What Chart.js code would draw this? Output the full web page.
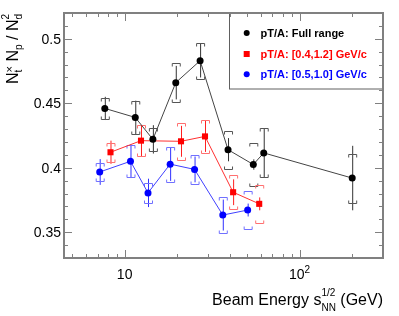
<!DOCTYPE html>
<html>
<head>
<meta charset="utf-8">
<script src="https://cdn.jsdelivr.net/npm/chart.js@4/dist/chart.umd.min.js"></script>
<style>
  html, body { margin: 0; padding: 0; background: #fff; }
  #wrap { width: 399px; height: 316px; }
</style>
</head>
<body>
<div id="wrap"><canvas id="chart" width="399" height="316"></canvas></div>
<script>
// ===============================
// data
// ===============================
const energyFull = [7.7, 11.5, 14.5, 19.6, 27, 39, 54.4, 62.4, 200];
const ratioFull = [0.446, 0.439, 0.422, 0.466, 0.483, 0.414, 0.4025, 0.4115, 0.392];
const statFull = [0.009, 0.013, 0.011, 0.013, 0.013, 0.009, 0.004, 0.019, 0.025];
const sysFull = [0.008, 0.013, 0.009, 0.015, 0.014, 0.0146, 0.017, 0.019, 0.019];

const energyMid = [8.3, 12.4, 21, 28.8, 41.7, 58.8];
const ratioMid = [0.412, 0.421, 0.4205, 0.4243, 0.381, 0.372];
const statMid = [0.009, 0.012, 0.012, 0.012, 0.010, 0.005];
const sysMid = [0.0073, 0.012, 0.0144, 0.0125, 0.013, 0.015];

const energyNarrow = [7.2, 10.8, 13.6, 18.2, 25.1, 36.4, 50.5];
const ratioNarrow = [0.3967, 0.405, 0.3805, 0.4028, 0.3987, 0.3633, 0.3672];
const statNarrow = [0.010, 0.013, 0.011, 0.013, 0.010, 0.012, 0.005];
const sysNarrow = [0.0073, 0.0125, 0.008, 0.0135, 0.011, 0.0137, 0.015];

const seriesNames = ['pT/A: Full range', 'pT/A: [0.4,1.2] GeV/c', 'pT/A: [0.5,1.0] GeV/c'];

// tick marks / labels
const yMajor = [0.35, 0.4, 0.45, 0.5];
const yLabels = ['0.35', '0.4', '0.45', '0.5'];
const yMinor = [0.33, 0.34, 0.36, 0.37, 0.38, 0.39, 0.41, 0.42, 0.43, 0.44, 0.46, 0.47, 0.48, 0.49, 0.51, 0.52];
const xMajor = [10, 100];
const xLabels = ['10', '10'];
const xLabelExp = ['', '2'];
const xMinor = [5, 6, 7, 8, 9, 20, 30, 40, 50, 60, 70, 80, 90, 200];

const FONT = '"Liberation Sans", Arial, Helvetica, sans-serif';
const FRAME = '#808080';

function pts(xs, ys) {
    return xs.map((x, i) => ({ x: x, y: ys[i] }));
}

const styles = [
    { marker: '#000000', line: '#444444', bracket: '#555555', stat: '#333333', shape: 'circle', r: 3.5 },
    { marker: '#ff0000', line: '#ff3030', bracket: '#ff7070', stat: '#ff2020', shape: 'rect', r: 4.3 },
    { marker: '#0000ff', line: '#4040ff', bracket: '#7070ff', stat: '#3030ff', shape: 'circle', r: 3.5 }
];
const errs = [
    { stat: statFull, sys: sysFull },
    { stat: statMid, sys: sysMid },
    { stat: statNarrow, sys: sysNarrow }
];

// ===============================
// error bars (stat line + sys brackets)
// ===============================
const errorBars = {
    id: 'errorBars',
    beforeDatasetsDraw(chart) {
        const ctx = chart.ctx;
        const xs = chart.scales.x, ys = chart.scales.y;
        ctx.save();
        chart.data.datasets.forEach((ds, di) => {
            const st = styles[di];
            ds.data.forEach((p, i) => {
                const px = xs.getPixelForValue(p.x);
                const s = errs[di].stat[i], sy = errs[di].sys[i];
                // stat
                ctx.strokeStyle = st.stat;
                ctx.lineWidth = 1;
                ctx.beginPath();
                ctx.moveTo(px + 0.5, ys.getPixelForValue(p.y + s));
                ctx.lineTo(px + 0.5, ys.getPixelForValue(p.y - s));
                ctx.stroke();
                // sys brackets
                const top = Math.round(ys.getPixelForValue(p.y + sy)) + 0.5;
                const bot = Math.round(ys.getPixelForValue(p.y - sy)) + 0.5;
                const hw = 4, tk = 3;
                ctx.strokeStyle = st.bracket;
                ctx.beginPath();
                ctx.moveTo(px - hw + 0.5, top + tk);
                ctx.lineTo(px - hw + 0.5, top);
                ctx.lineTo(px + hw + 0.5, top);
                ctx.lineTo(px + hw + 0.5, top + tk);
                ctx.moveTo(px - hw + 0.5, bot - tk);
                ctx.lineTo(px - hw + 0.5, bot);
                ctx.lineTo(px + hw + 0.5, bot);
                ctx.lineTo(px + hw + 0.5, bot - tk);
                ctx.stroke();
            });
        });
        ctx.restore();
    }
};

// ===============================
// frame, ticks, labels, legend
// ===============================
const frameAndText = {
    id: 'frameAndText',
    afterDraw(chart) {
        const ctx = chart.ctx;
        const a = chart.chartArea;
        const xs = chart.scales.x, ys = chart.scales.y;
        ctx.save();

        // legend (transparent box, axis ticks show through)
        const lx = 229.5, ly = a.top, lw = a.right - 229.5, lh = 89 - a.top;
        ctx.strokeStyle = '#606060';
        ctx.lineWidth = 1;
        ctx.strokeRect(lx, ly, lw, lh);
        const rows = [33, 54, 74.3];
        ctx.font = 'bold 11px ' + FONT;
        ctx.textAlign = 'left';
        ctx.textBaseline = 'middle';
        seriesNames.forEach((name, i) => {
            const st = styles[i];
            ctx.fillStyle = st.marker;
            if (st.shape === 'rect') {
                ctx.fillRect(246.7 - 3, rows[i] - 3, 6, 6);
            } else {
                ctx.beginPath();
                ctx.arc(246.7, rows[i], 3, 0, Math.PI * 2);
                ctx.fill();
            }
            ctx.fillText(name, 260.5, rows[i] + 0.5);
        });

        // ticks
        ctx.strokeStyle = FRAME;
        ctx.lineWidth = 1;
        ctx.beginPath();
        yMajor.concat(yMinor).forEach(v => {
            const len = yMajor.includes(v) ? 8 : 4;
            const py = Math.round(ys.getPixelForValue(v)) + 0.5;
            ctx.moveTo(a.left, py); ctx.lineTo(a.left + len, py);
            ctx.moveTo(a.right, py); ctx.lineTo(a.right - len, py);
        });
        xMajor.concat(xMinor).forEach(v => {
            const len = xMajor.includes(v) ? 8 : 4;
            const px = Math.round(xs.getPixelForValue(v)) + 0.5;
            ctx.moveTo(px, a.bottom); ctx.lineTo(px, a.bottom - len);
            ctx.moveTo(px, a.top); ctx.lineTo(px, a.top + len);
        });
        ctx.stroke();

        // frame
        ctx.lineWidth = 2;
        ctx.strokeRect(a.left, a.top, a.right - a.left, a.bottom - a.top);

        // y tick labels
        ctx.fillStyle = '#000';
        ctx.font = '14px ' + FONT;
        ctx.textAlign = 'right';
        ctx.textBaseline = 'middle';
        yMajor.forEach((v, i) => {
            ctx.fillText(yLabels[i], a.left - 3, ys.getPixelForValue(v) + 1);
        });

        // x tick labels
        ctx.textBaseline = 'alphabetic';
        xMajor.forEach((v, i) => {
            const px = xs.getPixelForValue(v);
            ctx.font = '14px ' + FONT;
            const w = ctx.measureText(xLabels[i]).width;
            ctx.font = '10px ' + FONT;
            const we = xLabelExp[i] ? ctx.measureText(xLabelExp[i]).width : 0;
            const x0 = px - (w + we) / 2;
            ctx.textAlign = 'left';
            ctx.font = '14px ' + FONT;
            ctx.fillText(xLabels[i], x0, 279);
            if (xLabelExp[i]) {
                ctx.font = '10px ' + FONT;
                ctx.fillText(xLabelExp[i], x0 + w, 273);
            }
        });

        // x title: Beam Energy s^{1/2}_{NN} (GeV), right aligned
        const parts = [
            { t: 'Beam Energy s', f: 16, dy: 0 },
            { t: '1/2', f: 10, dy: -9, sub: 'NN', sf: 10, sdy: 6 },
            { t: ' (GeV)', f: 16, dy: 0 }
        ];
        let total = 0;
        parts.forEach(p => {
            ctx.font = p.f + 'px ' + FONT;
            p.w = ctx.measureText(p.t).width;
            if (p.sub) {
                ctx.font = p.sf + 'px ' + FONT;
                p.w = Math.max(p.w, ctx.measureText(p.sub).width);
            }
            total += p.w;
        });
        let cx = a.right - total;
        const base = 305;
        ctx.textAlign = 'left';
        parts.forEach(p => {
            ctx.font = p.f + 'px ' + FONT;
            ctx.fillText(p.t, cx, base + p.dy);
            if (p.sub) {
                ctx.font = p.sf + 'px ' + FONT;
                ctx.fillText(p.sub, cx, base + p.sdy);
            }
            cx += p.w;
        });

        // y title: N_t x N_p / N_d^2, rotated
        ctx.save();
        ctx.translate(18, 84);
        ctx.rotate(-Math.PI / 2);
        const yparts = [
            { t: 'N', f: 16, dy: 0 },
            { t: 't', f: 10, dy: 4, ov: 'x' },
            { t: ' N', f: 16, dy: 0 },
            { t: 'p', f: 10, dy: 4 },
            { t: ' / N', f: 16, dy: 0 },
            { t: 'd', f: 10, dy: 4, sup: '2' }
        ];
        let ty = 0;
        yparts.forEach(p => {
            ctx.font = p.f + 'px ' + FONT;
            ctx.fillText(p.t, ty, p.dy);
            let w = ctx.measureText(p.t).width;
            if (p.ov) {
                ctx.font = '11px ' + FONT;
                ctx.fillText('\u00d7', ty, -5);
                w = Math.max(w, ctx.measureText('\u00d7').width);
            }
            if (p.sup) {
                ctx.font = '10px ' + FONT;
                ctx.fillText(p.sup, ty, -9);
            }
            ty += w;
        });
        ctx.restore();

        ctx.restore();
    }
};

const datasets = [
    pts(energyFull, ratioFull),
    pts(energyMid, ratioMid),
    pts(energyNarrow, ratioNarrow)
].map((d, i) => ({
    label: seriesNames[i],
    data: d,
    showLine: true,
    borderColor: styles[i].line,
    borderWidth: 1,
    backgroundColor: styles[i].marker,
    pointBackgroundColor: styles[i].marker,
    pointBorderColor: styles[i].marker,
    pointBorderWidth: 0,
    pointStyle: styles[i].shape,
    pointRadius: styles[i].r,
    tension: 0
}));

new Chart(document.getElementById('chart'), {
    type: 'scatter',
    data: { datasets: datasets },
    options: {
        responsive: false,
        animation: false,
        devicePixelRatio: 1,
        layout: { padding: { left: 64, top: 13, right: 16, bottom: 58 } },
        plugins: { legend: { display: false }, tooltip: { enabled: false } },
        scales: {
            x: { type: 'logarithmic', min: 4.5, max: 300, display: false },
            y: { type: 'linear', min: 0.33, max: 0.52, display: false }
        }
    },
    plugins: [errorBars, frameAndText]
});
</script>
</body>
</html>
